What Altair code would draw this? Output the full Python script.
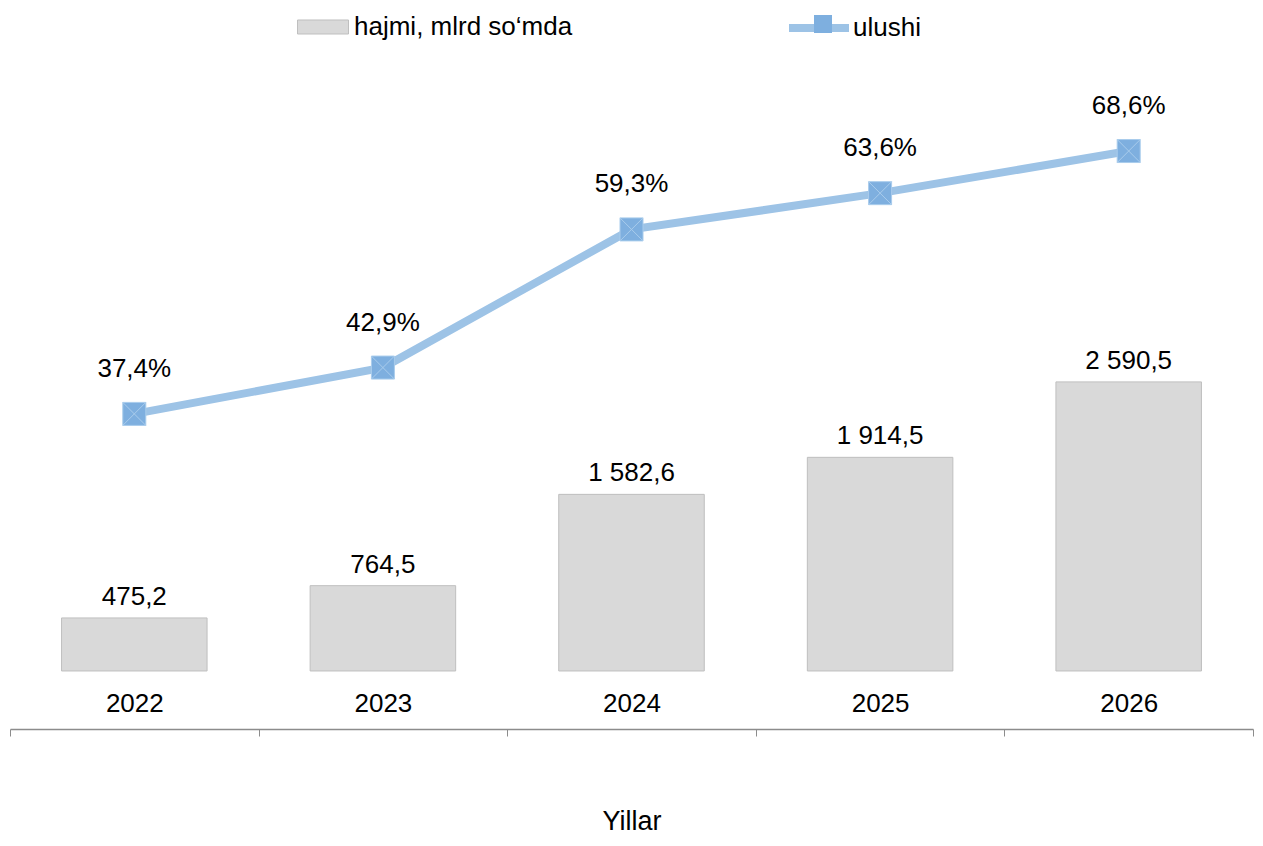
import altair as alt
import pandas as pd

years = ["2022", "2023", "2024", "2025", "2026"]
hajmi = [475.2, 764.5, 1582.6, 1914.5, 2590.5]
ulushi = [37.4, 42.9, 59.3, 63.6, 68.6]

bar_name = "hajmi, mlrd so\u2018mda"
line_name = "ulushi"


def fmt_num(v):
    s = f"{v:,.1f}"
    return s.replace(",", " ").replace(".", ",")


hajmi_labels = [fmt_num(v) for v in hajmi]
ulushi_labels = [f"{v:.1f}".replace(".", ",") + "%" for v in ulushi]

df = pd.DataFrame({
    "year": years,
    "hajmi": hajmi,
    "ulushi": ulushi,
    "hajmi_lbl": hajmi_labels,
    "ulushi_lbl": ulushi_labels,
    "s_bar": [bar_name] * len(years),
    "s_line": [line_name] * len(years),
    "s_mark": [line_name] * len(years),
})

FONT = "Liberation Sans"
MARK_PATH = "M-1,-1H1V1H-1ZM-1,-1L1,1M1,-1L-1,1"

x_enc = alt.X(
    "year:N",
    sort=years,
    scale=alt.Scale(paddingInner=0, paddingOuter=0),
    axis=alt.Axis(
        title="Yillar",
        labelAngle=0,
        labelFont=FONT,
        labelFontSize=26,
        labelColor="black",
        labelBaseline="middle",
        labelPadding=-33,
        tickBand="extent",
        tickSize=7,
        tickColor="#8C8C8C",
        domainColor="#8C8C8C",
        domainWidth=1.5,
        grid=False,
        titleFont=FONT,
        titleFontSize=27,
        titleFontWeight="normal",
        titleColor="black",
        titleY=92,
        titleBaseline="middle",
    ),
)

bar_scale = alt.Scale(domain=[-520, 5520], nice=False, zero=False)
pct_scale = alt.Scale(domain=[0, 80], nice=False, zero=False)

base = alt.Chart(df)

bars = base.mark_bar(
    stroke="#BFBFBF", strokeWidth=1, width=alt.RelativeBandSize(146 / 249.4)
).encode(
    x=x_enc,
    y=alt.Y("hajmi:Q", scale=bar_scale, axis=None),
    y2=alt.Y2(datum=0),
    fill=alt.Fill(
        "s_bar:N",
        scale=alt.Scale(range=["#D9D9D9"]),
        legend=alt.Legend(
            orient="none", legendX=287, legendY=-54, title=None, padding=0,
            symbolType="M-1,-0.275H1V0.275H-1Z", symbolSize=2601,
            symbolStrokeColor="#BFBFBF", symbolStrokeWidth=1, symbolOpacity=1,
            labelFont=FONT, labelFontSize=26, labelColor="black", labelOffset=5,
            labelLimit=600,
        ),
    ),
)

bar_text = base.mark_text(font=FONT, fontSize=26, color="black", dy=-21, baseline="middle").encode(
    x=x_enc,
    y=alt.Y("hajmi:Q", scale=bar_scale, axis=None),
    text="hajmi_lbl:N",
)

line = base.mark_line(strokeWidth=8).encode(
    x=x_enc,
    y=alt.Y("ulushi:Q", scale=pct_scale, axis=None),
    stroke=alt.Stroke(
        "s_line:N",
        scale=alt.Scale(range=["#9DC3E6"]),
        legend=alt.Legend(
            orient="none", legendX=775, legendY=-61, title=None, padding=0,
            symbolType="M-1,0H1", symbolSize=3600, symbolStrokeWidth=8,
            labelFont=FONT, labelFontSize=26, labelColor="black", labelOffset=0,
            labelLimit=600, zindex=0,
        ),
    ),
)

marks = base.mark_point(
    size=529, fill="#7EAFDF", stroke="#A9CCEC", strokeWidth=1, opacity=1, filled=False
).encode(
    x=x_enc,
    y=alt.Y("ulushi:Q", scale=pct_scale, axis=None),
    shape=alt.Shape(
        "s_mark:N",
        scale=alt.Scale(range=[MARK_PATH]),
        legend=alt.Legend(
            orient="none", legendX=800, legendY=-44, title=None, padding=0,
            symbolSize=324, symbolFillColor="#7EAFDF", symbolStrokeColor="#A9CCEC",
            symbolStrokeWidth=1, symbolOpacity=1,
            labelExpr="''", labelFontSize=26, zindex=1,
        ),
    ),
)

line_text = base.mark_text(font=FONT, fontSize=26, color="black", dy=-45, baseline="middle").encode(
    x=x_enc,
    y=alt.Y("ulushi:Q", scale=pct_scale, axis=None),
    text="ulushi_lbl:N",
)

chart = (
    alt.layer(bars, bar_text, line, marks, line_text)
    .resolve_scale(y="independent")
    .properties(
        width=1243,
        height=674,
        autosize=alt.AutoSizeParams(type="none"),
        padding={"left": 2, "top": 47, "right": 2, "bottom": 105},
        background="white",
    )
    .configure_view(stroke=None)
)

chart.save("out.html", embed_options={"renderer": "svg", "actions": False})
